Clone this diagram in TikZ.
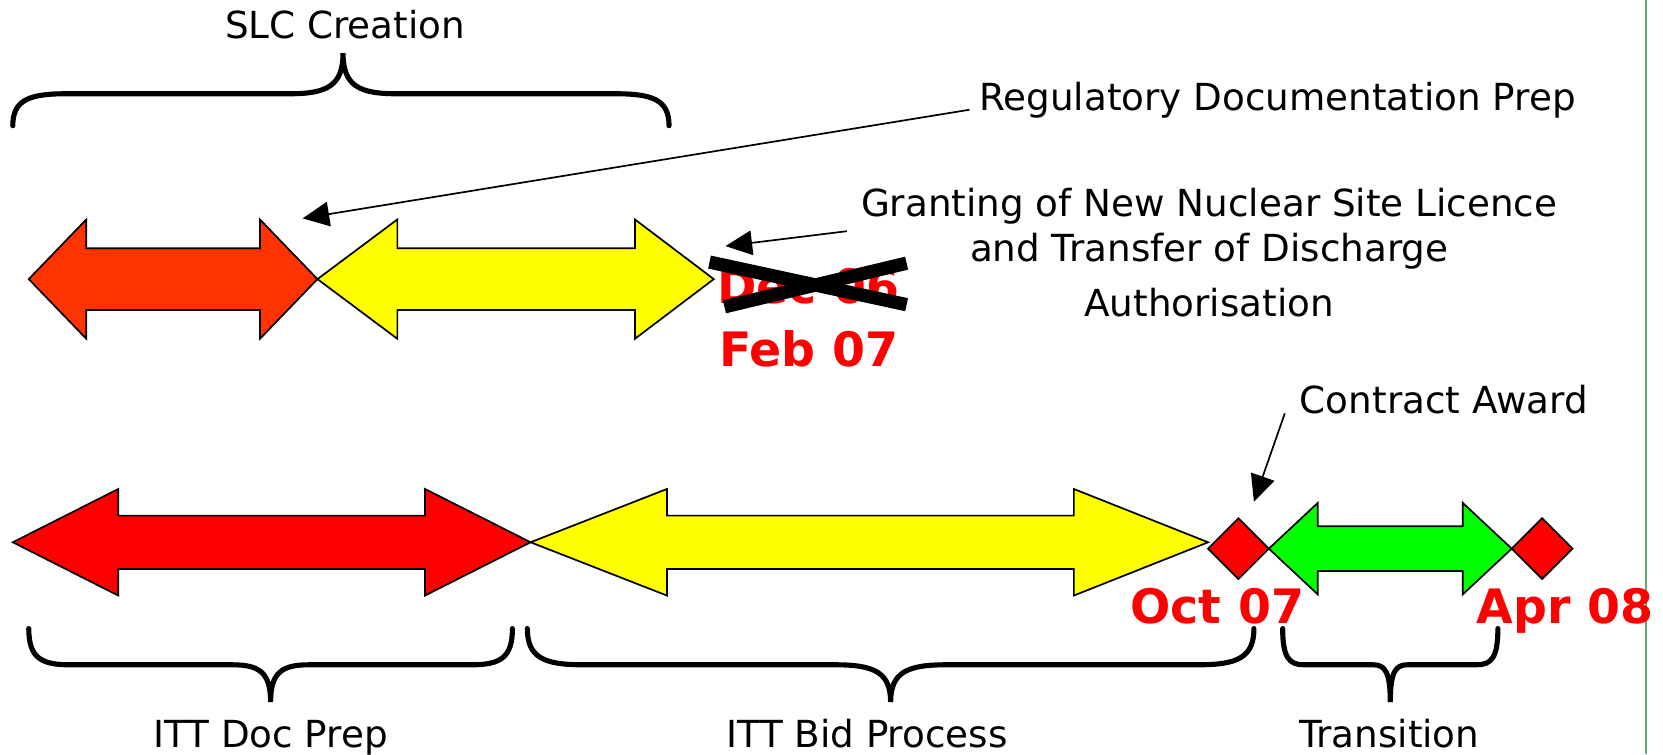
\documentclass[tikz,border=0pt]{standalone}
\usepackage{fontspec}
\setmainfont{DejaVu Sans}
\usetikzlibrary{arrows.meta}
\definecolor{orng}{RGB}{255,51,0}
\definecolor{rd}{RGB}{255,0,0}
\definecolor{yl}{RGB}{255,255,0}
\definecolor{gr}{RGB}{0,255,0}
\definecolor{sep}{RGB}{95,170,120}
\tikzset{
  shapeline/.style={draw=black, line width=1.6pt, line join=miter},
  bracestyle/.style={draw=black, line width=4.8pt, line cap=round},
  ptr/.style={draw=black, line width=1.6pt, -{Triangle[length=25pt,width=23pt]}},
  lbl/.style={inner sep=0pt, font=\fontsize{35}{42}\selectfont},
  datelbl/.style={inner sep=0pt, text=rd, font=\fontsize{44.5}{50}\selectfont\bfseries},
  cross/.style={draw=black, line width=12.5pt},
}
% double arrow: #1 left tip, #2 left base, #3 right base, #4 right tip, #5 y centre, #6 head half, #7 shaft half, #8 colour
\newcommand{\dblarr}[8]{%
  \filldraw[fill=#8, shapeline] (#1,#5) -- (#2,{#5-#6}) -- (#2,{#5-#7}) -- (#3,{#5-#7}) -- (#3,{#5-#6}) -- (#4,#5)
    -- (#3,{#5+#6}) -- (#3,{#5+#7}) -- (#2,{#5+#7}) -- (#2,{#5+#6}) -- cycle;}
% diamond: centre x, centre y, half size
\newcommand{\dmd}[3]{%
  \filldraw[fill=rd, shapeline] ({#1-#3},#2) -- (#1,{#2-#3}) -- ({#1+#3},#2) -- (#1,{#2+#3}) -- cycle;}
% brace: #1 xl, #2 xm, #3 xr, #4 y end, #5 y horizontal, #6 y tip, #7 corner dx, #8 middle dx
\newcommand{\hbrace}[8]{%
  \draw[bracestyle] (#1,#4) .. controls (#1,{#4+0.8*(#5-#4)}) and ({#1+0.3*#7},#5) .. ({#1+#7},#5)
    -- ({#2-#8},#5) .. controls ({#2-0.3*#8},#5) and (#2,{#5+0.2*(#6-#5)}) .. (#2,#6)
    .. controls (#2,{#5+0.2*(#6-#5)}) and ({#2+0.3*#8},#5) .. ({#2+#8},#5)
    -- ({#3-#7},#5) .. controls ({#3-0.3*#7},#5) and (#3,{#4+0.8*(#5-#4)}) .. (#3,#4);}
\begin{document}
\begin{tikzpicture}[x=1pt,y=-1pt]
\useasboundingbox[fill=white] (0,0) rectangle (1561,707.8);
% separator line at right
\coordinate (septop) at (1545,0);
\coordinate (sepbot) at (1545,707.8);
\draw[sep, line width=2.2pt] (septop) -- (sepbot);

% top row arrows
\dblarr{27}{81}{244}{298}{262}{56}{29}{orng}
\dblarr{298}{373}{596}{670}{262}{56}{29}{yl}

% bottom row
\dblarr{12}{111}{399}{498}{509}{50}{25}{rd}
\dblarr{498}{626}{1008}{1134}{509}{50}{25}{yl}
\dmd{1162.5}{515}{28.5}
\dblarr{1191}{1237}{1373}{1419}{515}{43}{21}{gr}
\dmd{1447.5}{515}{28.5}

% braces
\hbrace{12}{322}{628}{118}{88}{50}{50}{50}
\hbrace{27}{254}{481}{590}{624}{659}{38}{36}
\hbrace{495}{836}{1177}{590}{624}{659}{52}{52}
\hbrace{1204}{1305}{1406}{590}{624}{659}{20}{16}

% labels
\node[lbl, anchor=base] (slc) at (324,36) {SLC Creation};
\node[lbl, anchor=base west] (reg) at (919,104) {Regulatory Documentation Prep};
\node[lbl, anchor=base] (gr1) at (1135,203) {Granting of New Nuclear Site Licence};
\node[lbl, anchor=base] (gr2) at (1135,245) {and Transfer of Discharge};
\node[lbl, anchor=base] (gr3) at (1135,297) {Authorisation};
\node[lbl, anchor=base west] (ca) at (1220,388) {Contract Award};
\node[lbl, anchor=base] (ittdoc) at (254,702) {ITT Doc Prep};
\node[lbl, anchor=base] (ittbid) at (814,702) {ITT Bid Process};
\node[lbl, anchor=base] (trans) at (1304,702) {Transition};

% dates
\node[datelbl, anchor=base west] (dec) at (673,285) {Dec 06};
\node[datelbl, anchor=base west] (feb) at (675,344) {Feb 07};
\node[datelbl, anchor=base west] (oct) at (1061,585) {Oct 07};
\node[datelbl, anchor=base west] (apr) at (1386,585) {Apr 08};

% cross over Dec 06
\coordinate (xa1) at (666,246); \coordinate (xa2) at (851,286);
\coordinate (xb1) at (680,288); \coordinate (xb2) at (851,247);
\draw[cross] (xa1) -- (xa2);
\draw[cross] (xb1) -- (xb2);

% pointer arrows
\coordinate (regs) at (910,103); \coordinate (regt) at (284,205);
\draw[ptr] (regs) -- (regt);
\coordinate (grs) at (795,217); \coordinate (grt) at (681,231);
\draw[ptr] (grs) -- (grt);
\coordinate (cas) at (1206,388); \coordinate (cat) at (1177,471);
\draw[ptr] (cas) -- (cat);
\end{tikzpicture}
\end{document}
